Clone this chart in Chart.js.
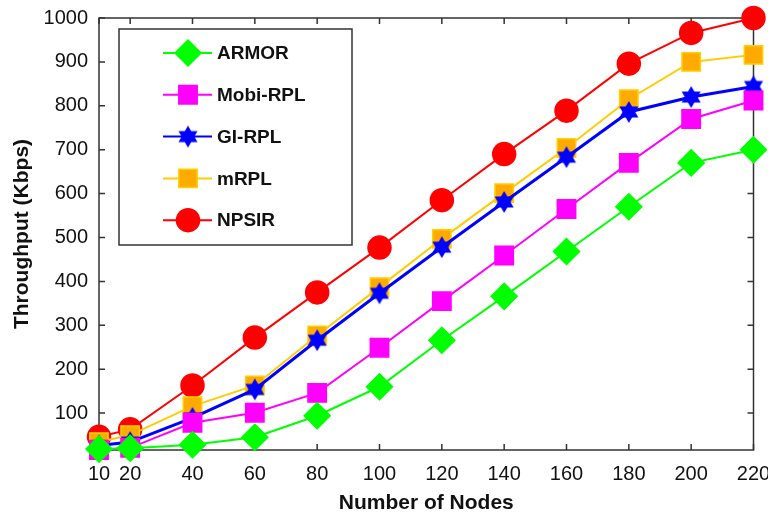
<!DOCTYPE html>
<html>
<head>
<meta charset="utf-8">
<script src="https://cdn.jsdelivr.net/npm/chart.js@4.4.0/dist/chart.umd.min.js"></script>
<style>
  html, body { margin: 0; padding: 0; background: #fff; }
  #wrap { width: 768px; height: 517px; }
</style>
</head>
<body>
<div id="wrap"><canvas id="myChart" width="768" height="517"></canvas></div>
<script>
// data
var nodes = [10, 20, 40, 60, 80, 100, 120, 140, 160, 180, 200, 220];
var armor = [18, 20, 28, 45, 94, 160, 266, 366, 468, 570, 670, 700];
var mobiRpl = [16, 21, 78, 101, 146, 249, 355, 459, 565, 670, 770, 812];
var giRpl = [26, 34, 89, 154, 266, 373, 478, 581, 683, 786, 820, 844];
var mRpl = [34, 50, 116, 163, 277, 387, 497, 601, 704, 815, 900, 916];
var npsir = [46, 63, 163, 272, 375, 477, 585, 690, 789, 896, 966, 1000];
var xTicks = [10, 20, 40, 60, 80, 100, 120, 140, 160, 180, 200, 220];
var yTicks = [100, 200, 300, 400, 500, 600, 700, 800, 900, 1000];

var FONT = "'Liberation Sans', Arial, sans-serif";

// six pointed star marker for GI-RPL
function makeHexagram(color) {
  var c = document.createElement("canvas");
  c.width = 22;
  c.height = 24;
  var g = c.getContext("2d");
  var cx = 11, cy = 12, r = 11;
  g.fillStyle = color;
  for (var k = 0; k < 2; k++) {
    g.beginPath();
    for (var i = 0; i < 3; i++) {
      var ang = (k * 60 - 90 + i * 120) * Math.PI / 180;
      var px = cx + r * Math.cos(ang);
      var py = cy + r * Math.sin(ang);
      if (i === 0) g.moveTo(px, py); else g.lineTo(px, py);
    }
    g.closePath();
    g.fill();
  }
  return c;
}
var starImg = makeHexagram("#0000ff");

function series(label, data, line, fill, border, style, radius, lw) {
  return {
    label: label,
    data: data.map(function (v, i) { return { x: nodes[i], y: v }; }),
    borderColor: line,
    backgroundColor: line,
    borderWidth: lw,
    pointStyle: style,
    pointRadius: radius,
    pointHoverRadius: radius,
    pointBackgroundColor: fill,
    pointBorderColor: border,
    pointBorderWidth: 1.5,
    tension: 0,
    clip: false,
  };
}

var datasets = [
  series("ARMOR", armor, "#00ff00", "#00ff00", "#00ff00", "rectRot", 13, 2),
  series("Mobi-RPL", mobiRpl, "#ff00ff", "#ff00ff", "#ff00ff", "rect", 13, 2),
  series("GI-RPL", giRpl, "#0000ff", "#0000ff", "#0000ff", starImg, 11, 3),
  series("mRPL", mRpl, "#ffcc00", "#ffaa00", "#ffd000", "rect", 13, 2),
  series("NPSIR", npsir, "#ff0000", "#ff0000", "#ff0000", "circle", 11.5, 2),
];

// box round the plot and inward ticks on all four sides
var framePlugin = {
  id: "frame",
  beforeDatasetsDraw: function (chart) {
    var ctx = chart.ctx, a = chart.chartArea;
    var xs = chart.scales.x, ys = chart.scales.y;
    ctx.save();
    ctx.strokeStyle = "#333";
    ctx.lineWidth = 1.5;
    ctx.strokeRect(a.left, a.top, a.right - a.left, a.bottom - a.top);
    ctx.beginPath();
    xs.ticks.forEach(function (t) {
      var px = xs.getPixelForValue(t.value);
      ctx.moveTo(px, a.bottom); ctx.lineTo(px, a.bottom - 6);
      ctx.moveTo(px, a.top); ctx.lineTo(px, a.top + 6);
    });
    ys.ticks.forEach(function (t) {
      var py = ys.getPixelForValue(t.value);
      ctx.moveTo(a.left, py); ctx.lineTo(a.left + 6, py);
      ctx.moveTo(a.right, py); ctx.lineTo(a.right - 6, py);
    });
    ctx.stroke();
    ctx.restore();
  },
};

// legend box inside the plot
var legendPlugin = {
  id: "boxLegend",
  afterDraw: function (chart) {
    var ctx = chart.ctx;
    var bx = 119, by = 29, bw = 233, bh = 216;
    ctx.save();
    ctx.fillStyle = "#fff";
    ctx.fillRect(bx, by, bw, bh);
    ctx.strokeStyle = "#333";
    ctx.lineWidth = 1.5;
    ctx.strokeRect(bx, by, bw, bh);
    chart.data.datasets.forEach(function (ds, i) {
      var y = 53 + i * 41.8;
      ctx.strokeStyle = ds.borderColor;
      ctx.lineWidth = 2;
      ctx.beginPath();
      ctx.moveTo(163, y);
      ctx.lineTo(212, y);
      ctx.stroke();
      ctx.fillStyle = ds.pointBackgroundColor;
      ctx.strokeStyle = ds.pointBorderColor;
      ctx.lineWidth = ds.pointBorderWidth;
      Chart.helpers.drawPoint(ctx, {
        pointStyle: ds.pointStyle,
        radius: ds.pointRadius,
        rotation: 0,
        borderWidth: ds.pointBorderWidth,
      }, 188, y);
      ctx.fillStyle = "#111";
      ctx.font = "bold 19px " + FONT;
      ctx.textBaseline = "middle";
      ctx.textAlign = "left";
      ctx.fillText(ds.label, 217, y + 1);
    });
    ctx.restore();
  },
};

var ctx = document.getElementById("myChart").getContext("2d");
var myChart = new Chart(ctx, {
  type: "line",
  data: { datasets: datasets },
  plugins: [framePlugin, legendPlugin],
  options: {
    responsive: false,
    animation: false,
    events: [],
    layout: { padding: { left: 0, top: 18, right: 14, bottom: 0 } },
    plugins: {
      legend: { display: false },
      tooltip: { enabled: false },
    },
    scales: {
      x: {
        type: "linear",
        min: 10,
        max: 220,
        afterBuildTicks: function (scale) {
          scale.ticks = xTicks.map(function (v) { return { value: v }; });
        },
        afterFit: function (scale) {
          scale.height = 67;
          scale.paddingLeft = 0;
          scale.paddingRight = 0;
        },
        grid: { display: false, drawTicks: false },
        border: { display: false },
        ticks: {
          color: "#111",
          font: { family: FONT, size: 20 },
          padding: 12,
          maxRotation: 0,
          autoSkip: false,
          callback: function (v) { return String(v); },
        },
        title: {
          display: true,
          text: "Number of Nodes",
          color: "#111",
          font: { family: FONT, size: 21, weight: "bold" },
          padding: { top: 0, bottom: 1 },
        },
      },
      y: {
        min: 16,
        max: 1000,
        afterBuildTicks: function (scale) {
          scale.ticks = yTicks.map(function (v) { return { value: v }; });
        },
        afterFit: function (scale) {
          scale.width = 99;
          scale.paddingTop = 0;
          scale.paddingBottom = 0;
        },
        grid: { display: false, drawTicks: false },
        border: { display: false },
        ticks: {
          color: "#111",
          font: { family: FONT, size: 20 },
          padding: 11,
          autoSkip: false,
          callback: function (v) { return String(v); },
        },
        title: {
          display: true,
          text: "Throughput (Kbps)",
          color: "#111",
          font: { family: FONT, size: 21, weight: "bold" },
          padding: { top: 10, bottom: 0 },
        },
      },
    },
  },
});
</script>
</body>
</html>
